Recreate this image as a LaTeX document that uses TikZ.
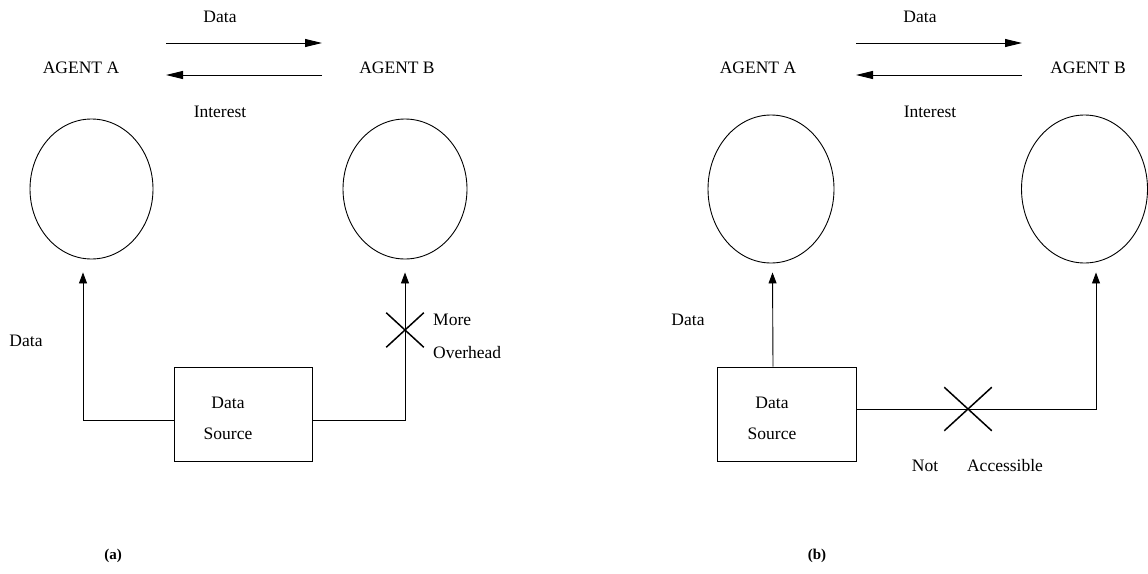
\documentclass[tikz,border=0pt]{standalone}
\usepackage{fontspec}
\setmainfont{Liberation Serif}
\usetikzlibrary{arrows.meta,shapes.geometric,shapes.misc}
\begin{document}
\begin{tikzpicture}[x=1pt,y=-1pt,
  lbl/.style={font=\fontsize{17.5}{31}\selectfont, inner sep=0pt},
  agent/.style={draw, ellipse, line width=0.9pt, inner sep=0pt},
  srcbox/.style={draw, line width=0.9pt, minimum width=138.5pt, minimum height=94pt, inner sep=0pt},
  link/.style={line width=0.9pt},
  harr/.style={link, -{Triangle[length=17pt,width=8pt]}},
  varr/.style={link, -{Triangle[length=11pt,width=8pt]}},
  blocked/.style={cross out, draw, line width=1.5pt, inner sep=0pt},
  subcap/.style={font=\fontsize{15}{17}\selectfont\bfseries, inner sep=0pt}]
\useasboundingbox (0,0) rectangle (1148,573);

% ---------- (a): data reaches B only through extra overhead ----------
\node[lbl] (a-dt) at (220,17) {Data};
\coordinate (a-dL) at (166,43);
\coordinate (a-dR) at (322,43);
\coordinate (a-iL) at (166,75);
\coordinate (a-iR) at (322,75);
\draw[harr] (a-dL) -- (a-dR);
\draw[harr] (a-iR) -- (a-iL);
\node[lbl] (a-agA) at (81,68) {AGENT A};
\node[lbl] (a-agB) at (397,68) {AGENT B};
\node[lbl] (a-int) at (220,112) {Interest};
\node[agent, minimum width=123pt, minimum height=140pt] (a-cA) at (91.5,189) {};
\node[agent, minimum width=124pt, minimum height=140pt] (a-cB) at (405,189) {};
\node[srcbox] (a-src) at (243.5,414) {};
\node[lbl, align=center] (a-srct) at (228,418.5) {Data\\Source};
\draw[varr] ([yshift=-6pt]a-src.west) -| ([xshift=-8.5pt,yshift=-13pt]a-cA.south);
\draw[varr] ([yshift=-6pt]a-src.east) -| ([yshift=-13pt]a-cB.south);
\node[blocked, minimum width=36pt, minimum height=33pt] (a-x) at (405,330) {};
\node[lbl, anchor=west] (a-more) at (433,320) {More};
\node[lbl, anchor=west] (a-over) at (433,353) {Overhead};
\node[lbl] (a-dl) at (26,341) {Data};
\node[subcap] (a-cap) at (113,556) {(a)};

% ---------- (b): B cannot reach the data source ----------
\node[lbl] (b-dt) at (920,17) {Data};
\coordinate (b-dL) at (856,43);
\coordinate (b-dR) at (1022,43);
\coordinate (b-iL) at (856,75);
\coordinate (b-iR) at (1022,75);
\draw[harr] (b-dL) -- (b-dR);
\draw[harr] (b-iR) -- (b-iL);
\node[lbl] (b-agA) at (758,68) {AGENT A};
\node[lbl] (b-agB) at (1088,68) {AGENT B};
\node[lbl] (b-int) at (930,112) {Interest};
\node[agent, minimum width=126pt, minimum height=148pt] (b-cA) at (771,189) {};
\node[agent, minimum width=126pt, minimum height=148pt] (b-cB) at (1084.5,189) {};
\node[srcbox] (b-src) at (787,414) {};
\node[lbl, align=center] (b-srct) at (772,418.5) {Data\\Source};
\draw[varr] ([xshift=-14pt]b-src.north) -- ([xshift=1.5pt,yshift=-9pt]b-cA.south);
\draw[varr] ([yshift=5pt]b-src.east) -| ([xshift=11.5pt,yshift=-9pt]b-cB.south);
\node[blocked, minimum width=46pt, minimum height=42pt] (b-x) at (968,409) {};
\node[lbl] (b-not) at (925,466) {Not};
\node[lbl] (b-acc) at (1005,466) {Accessible};
\node[lbl] (b-dl) at (688,320) {Data};
\node[subcap] (b-cap) at (817,556) {(b)};
\end{tikzpicture}
\end{document}
